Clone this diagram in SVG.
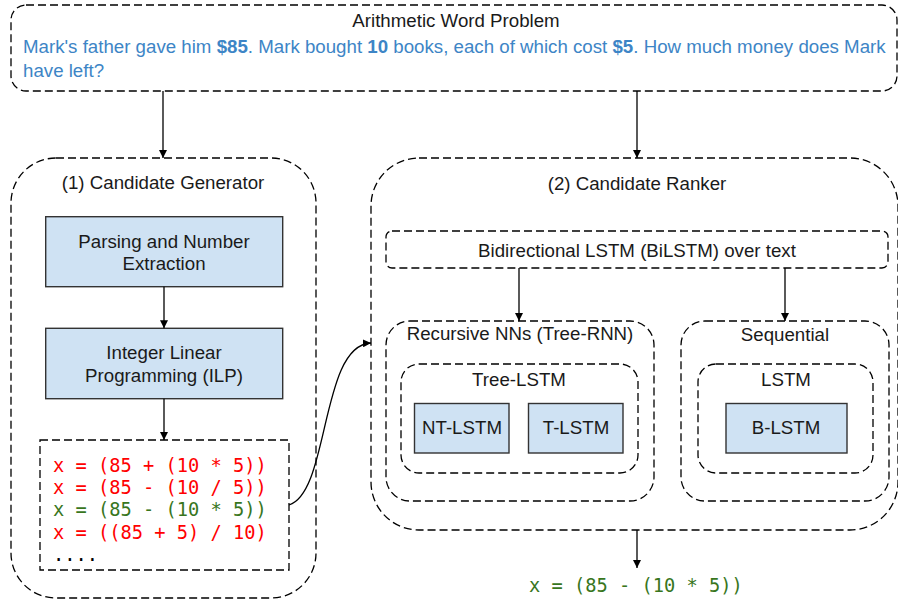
<svg xmlns="http://www.w3.org/2000/svg" width="898" height="600" viewBox="0 0 898 600">
<defs>
<marker id="ah" viewBox="0 0 10 10" refX="10" refY="5" markerWidth="8" markerHeight="8" markerUnits="userSpaceOnUse" orient="auto">
<path d="M0,0 L10,5 L0,10 z" fill="#000"/>
</marker>
<style>
.dash{fill:none;stroke:#000;stroke-width:1.3;stroke-dasharray:8,4}
.blue{fill:#cfe2f3;stroke:#333;stroke-width:1.4}
.lbl{font-family:"Liberation Sans",Arial,sans-serif;font-size:18.7px;fill:#1a1a1a;text-anchor:middle}
.q{font-family:"Liberation Sans",Arial,sans-serif;font-size:18.7px;fill:#3d85c6}
.code{font-family:"DejaVu Sans Mono","Liberation Mono",monospace;font-size:18.7px}
.red{fill:#ff0000}
.green{fill:#38761d}
.conn{fill:none;stroke:#000;stroke-width:1.3;marker-end:url(#ah)}
</style>
</defs>
<rect width="898" height="600" fill="#fff"/>

<g id="problem">
<rect class="dash" x="11" y="5" width="886" height="86" rx="15"/>
<text class="lbl" x="456" y="27">Arithmetic Word Problem</text>
<text class="q" x="23" y="53">Mark's father gave him <tspan font-weight="bold">$85</tspan>. Mark bought <tspan font-weight="bold">10</tspan> books, each of which cost <tspan font-weight="bold">$5</tspan>. How much money does Mark</text>
<text class="q" x="23" y="77">have left?</text>
</g>

<g id="generator">
<rect class="dash" x="11" y="158" width="305" height="440" rx="45"/>
<text class="lbl" x="163" y="189">(1) Candidate Generator</text>
</g>

<g id="parsing">
<rect class="blue" x="45.7" y="216.7" width="237" height="70"/>
<text class="lbl" x="164" y="248">Parsing and Number</text>
<text class="lbl" x="164" y="270">Extraction</text>
</g>

<g id="ilp">
<rect class="blue" x="45.7" y="328.3" width="237" height="70.4"/>
<text class="lbl" x="164" y="359">Integer Linear</text>
<text class="lbl" x="164" y="382">Programming (ILP)</text>
</g>

<g id="candidates">
<rect class="dash" x="40" y="440" width="249" height="130"/>
<text class="code red" x="53" y="472">x = (85 + (10 * 5))</text>
<text class="code red" x="53" y="494">x = (85 - (10 / 5))</text>
<text class="code green" x="53" y="516">x = (85 - (10 * 5))</text>
<text class="code red" x="53" y="539">x = ((85 + 5) / 10)</text>
<text class="code" x="53" y="561" fill="#000">....</text>
</g>

<g id="ranker">
<rect class="dash" x="371" y="158" width="527" height="372" rx="48"/>
<text class="lbl" x="637" y="190">(2) Candidate Ranker</text>
</g>

<g id="bilstm">
<rect class="dash" x="386" y="231" width="502" height="37" rx="6"/>
<text class="lbl" x="637" y="257">Bidirectional LSTM (BiLSTM) over text</text>
</g>

<g id="recursive">
<rect class="dash" x="386" y="321" width="268" height="180" rx="24"/>
<text class="lbl" x="520" y="340">Recursive NNs (Tree-RNN)</text>
</g>

<g id="treelstm">
<rect class="dash" x="401" y="364" width="237" height="109" rx="18"/>
<text class="lbl" x="519" y="386">Tree-LSTM</text>
</g>

<g id="ntlstm">
<rect class="blue" x="414.5" y="403.5" width="94.5" height="49.5"/>
<text class="lbl" x="462" y="434">NT-LSTM</text>
</g>

<g id="tlstm">
<rect class="blue" x="528.5" y="403.5" width="94.5" height="49.5"/>
<text class="lbl" x="576" y="434">T-LSTM</text>
</g>

<g id="sequential">
<rect class="dash" x="681" y="321" width="208" height="180" rx="24"/>
<text class="lbl" x="785" y="341">Sequential</text>
</g>

<g id="lstm">
<rect class="dash" x="698" y="364" width="175" height="109" rx="18"/>
<text class="lbl" x="786" y="386">LSTM</text>
</g>

<g id="blstm">
<rect class="blue" x="726" y="403.5" width="121" height="49.5"/>
<text class="lbl" x="786" y="434">B-LSTM</text>
</g>

<g id="result">
<text class="code green" x="636" y="592" text-anchor="middle">x = (85 - (10 * 5))</text>
</g>

<g id="connectors">
<line class="conn" x1="163" y1="91" x2="163" y2="158"/>
<line class="conn" x1="637" y1="91" x2="637" y2="158"/>
<line class="conn" x1="164" y1="286.7" x2="164" y2="328.3"/>
<line class="conn" x1="164" y1="398.7" x2="164" y2="440"/>
<path class="conn" d="M289,505 C330,492 320,345 371,343"/>
<line class="conn" x1="519" y1="268" x2="519" y2="321"/>
<line class="conn" x1="785" y1="268" x2="785" y2="321"/>
<line class="conn" x1="637" y1="530" x2="637" y2="568"/>
</g>
</svg>
